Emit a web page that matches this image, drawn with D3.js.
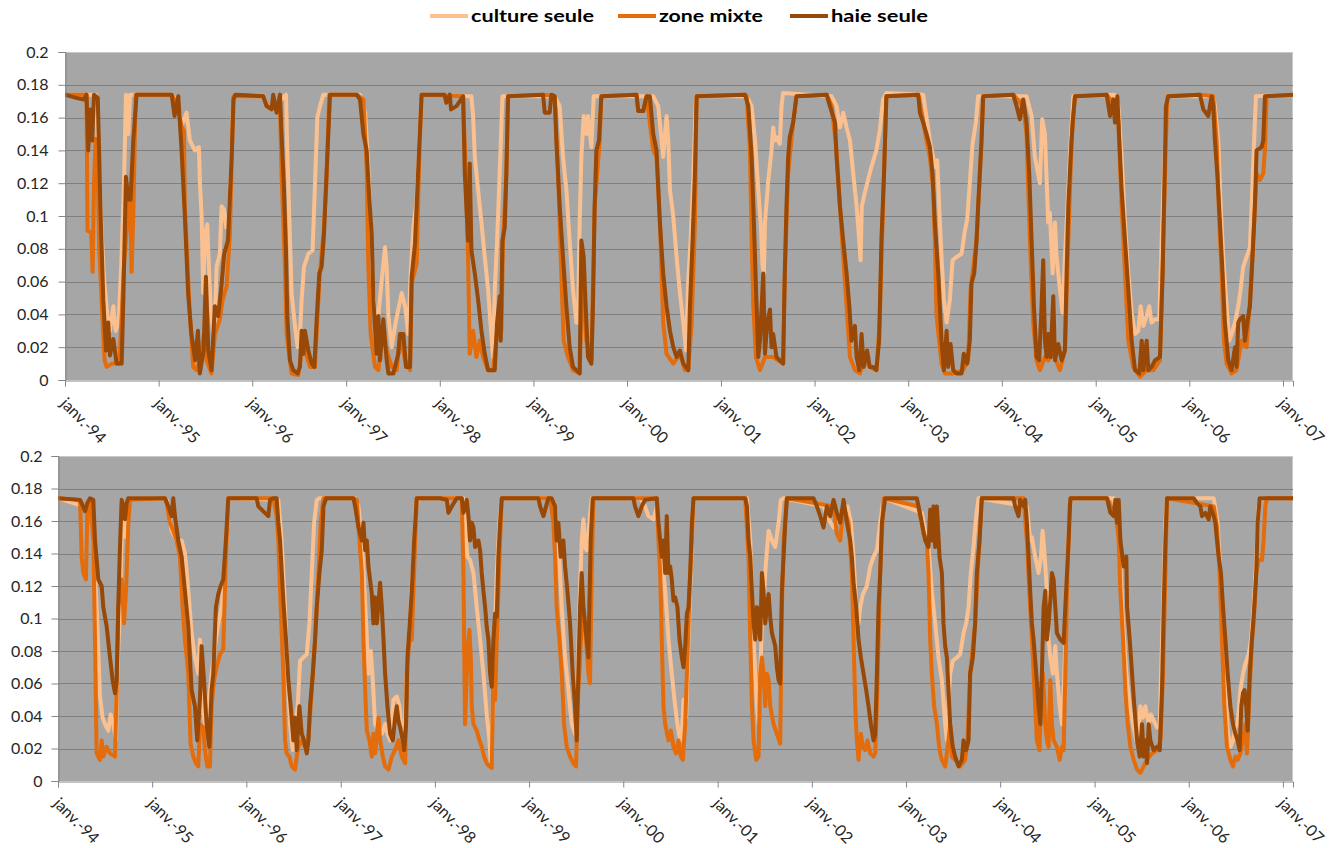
<!DOCTYPE html>
<html><head><meta charset="utf-8">
<script src="https://cdn.jsdelivr.net/npm/d3@7"></script>
<style>
body{margin:0;background:#fff;}
svg{display:block;font-family:Lato,"Open Sans",sans-serif;}
</style></head><body>
<svg id="chart" width="1343" height="848"></svg>
<script>
// ---------- DATA (decimal year, value) ----------
const seriesNames = ["culture seule", "zone mixte", "haie seule"];
const tickLabels = ["janv.-94","janv.-95","janv.-96","janv.-97","janv.-98","janv.-99","janv.-00","janv.-01","janv.-02","janv.-03","janv.-04","janv.-05","janv.-06","janv.-07"];
const yTicks = [0,0.02,0.04,0.06,0.08,0.1,0.12,0.14,0.16,0.18,0.2];

const topCulture = [[1994.0,.174],[1994.33,.174],[1994.363,.13],[1994.391,.09],[1994.42,.059],[1994.452,.040],[1994.48,.030],[1994.516,.045],[1994.541,.030],[1994.573,.035],[1994.6,.069],[1994.63,.12],[1994.651,.174],[1994.676,.150],[1994.694,.174],
[1995.14,.174],[1995.192,.171],[1995.245,.155],[1995.298,.163],[1995.334,.146],[1995.387,.140],[1995.43,.142],[1995.441,.120],[1995.459,.100],[1995.476,.053],[1995.494,.089],[1995.519,.095],[1995.54,.065],[1995.555,.045],[1995.583,.028],[1995.601,.037],[1995.619,.069],[1995.654,.077],[1995.672,.106],[1995.697,.104],[1995.722,.093],[1995.754,.102],[1995.779,.136],[1995.797,.173],
[1996.117,.173],[1996.152,.168],[1996.206,.165],[1996.295,.170],[1996.359,.174],[1996.373,.140],[1996.394,.100],[1996.419,.053],[1996.455,.033],[1996.483,.020],[1996.508,.028],[1996.526,.049],[1996.551,.069],[1996.597,.077],[1996.643,.079],[1996.668,.120],[1996.693,.160],[1996.721,.167],[1996.757,.174],
[1997.148,.174],[1997.202,.163],[1997.237,.130],[1997.273,.069],[1997.308,.039],[1997.344,.039],[1997.38,.061],[1997.415,.081],[1997.433,.069],[1997.451,.039],[1997.486,.020],[1997.522,.033],[1997.557,.043],[1997.593,.053],[1997.629,.045],[1997.664,.028],[1997.689,.065],[1997.718,.093],[1997.753,.110],[1997.782,.144],[1997.806,.174],
[1998.285,.173],[1998.338,.173],[1998.356,.161],[1998.374,.136],[1998.409,.116],[1998.445,.096],[1998.48,.075],[1998.516,.055],[1998.541,.035],[1998.569,.014],[1998.587,.055],[1998.612,.085],[1998.633,.116],[1998.651,.144],[1998.669,.173],
[1999.227,.173],[1999.281,.167],[1999.316,.136],[1999.352,.116],[1999.387,.085],[1999.423,.055],[1999.459,.035],[1999.476,.035],[1999.494,.096],[1999.512,.136],[1999.537,.161],[1999.565,.150],[1999.583,.161],[1999.619,.142],[1999.644,.173],
[2000.279,.173],[2000.332,.167],[2000.385,.136],[2000.421,.161],[2000.439,.146],[2000.457,.116],[2000.492,.100],[2000.528,.075],[2000.563,.053],[2000.599,.035],[2000.627,.018],[2000.652,.061],[2000.677,.085],[2000.705,.122],[2000.734,.173],
[2001.275,.173],[2001.328,.167],[2001.364,.146],[2001.399,.116],[2001.424,.096],[2001.445,.069],[2001.459,.065],[2001.47,.096],[2001.506,.122],[2001.54,.140],[2001.558,.154],[2001.576,.146],[2001.593,.148],[2001.629,.144],[2001.647,.167],[2001.664,.175],
[2002.182,.173],[2002.235,.167],[2002.271,.154],[2002.306,.163],[2002.342,.154],[2002.378,.146],[2002.413,.126],[2002.449,.106],[2002.477,.085],[2002.491,.073],[2002.505,.106],[2002.536,.114],[2002.571,.122],[2002.607,.130],[2002.66,.140],[2002.696,.152],[2002.731,.171],[2002.767,.175],
[2003.16,.174],[2003.232,.146],[2003.285,.130],[2003.31,.134],[2003.331,.106],[2003.356,.075],[2003.381,.049],[2003.41,.035],[2003.445,.049],[2003.474,.073],[2003.516,.075],[2003.57,.077],[2003.605,.091],[2003.63,.098],[2003.658,.120],[2003.687,.144],[2003.723,.157],[2003.747,.173],
[2004.263,.173],[2004.317,.161],[2004.352,.136],[2004.405,.120],[2004.43,.159],[2004.459,.150],[2004.477,.122],[2004.494,.096],[2004.512,.102],[2004.541,.065],[2004.566,.096],[2004.583,.075],[2004.619,.055],[2004.647,.041],[2004.672,.075],[2004.708,.116],[2004.733,.146],[2004.761,.173],
[2005.2,.174],[2005.242,.167],[2005.277,.136],[2005.313,.096],[2005.348,.065],[2005.384,.041],[2005.42,.028],[2005.455,.030],[2005.48,.045],[2005.509,.033],[2005.544,.039],[2005.572,.045],[2005.597,.035],[2005.633,.037],[2005.679,.037],[2005.693,.065],[2005.722,.116],[2005.75,.157],[2005.765,.173],
[2006.255,.173],[2006.273,.167],[2006.309,.146],[2006.334,.106],[2006.362,.075],[2006.398,.045],[2006.426,.024],[2006.451,.028],[2006.487,.035],[2006.522,.045],[2006.547,.055],[2006.575,.069],[2006.611,.075],[2006.647,.081],[2006.665,.106],[2006.682,.132],[2006.711,.173],[2007.11,.174]];

const topMixte = [[1994.0,.174],[1994.23,.174],[1994.24,.091],[1994.28,.09],[1994.295,.066],[1994.31,.12],[1994.327,.147],[1994.348,.13],[1994.366,.08],[1994.398,.04],[1994.423,.012],[1994.445,.008],[1994.502,.01],[1994.58,.01],[1994.605,.039],[1994.63,.07],[1994.669,.1],[1994.694,.114],[1994.711,.066],[1994.729,.1],[1994.755,.174],
[1995.14,.174],[1995.18,.170],[1995.245,.155],[1995.27,.152],[1995.28,.106],[1995.334,.039],[1995.37,.008],[1995.405,.006],[1995.441,.012],[1995.484,.028],[1995.512,.012],[1995.565,.004],[1995.601,.028],[1995.654,.037],[1995.683,.049],[1995.726,.057],[1995.761,.089],[1995.797,.173],
[1996.117,.173],[1996.152,.168],[1996.206,.165],[1996.295,.170],[1996.312,.126],[1996.348,.069],[1996.366,.028],[1996.419,.004],[1996.49,.003],[1996.526,.018],[1996.561,.018],[1996.615,.008],[1996.668,.008],[1996.693,.037],[1996.72,.065],[1996.76,.09],[1996.79,.12],[1996.82,.174],
[1997.113,.174],[1997.184,.171],[1997.219,.130],[1997.237,.069],[1997.262,.028],[1997.308,.008],[1997.344,.006],[1997.38,.028],[1997.433,.018],[1997.486,.008],[1997.54,.006],[1997.575,.028],[1997.629,.012],[1997.682,.006],[1997.7,.059],[1997.753,.071],[1997.782,.140],[1997.806,.174],
[1998.249,.173],[1998.277,.126],[1998.302,.075],[1998.32,.016],[1998.356,.030],[1998.391,.014],[1998.427,.024],[1998.462,.014],[1998.516,.006],[1998.569,.006],[1998.623,.035],[1998.658,.030],[1998.676,.085],[1998.711,.126],[1998.729,.173],
[1999.103,.174],[1999.227,.173],[1999.263,.126],[1999.298,.065],[1999.323,.024],[1999.37,.014],[1999.423,.006],[1999.494,.004],[1999.523,.065],[1999.565,.024],[1999.619,.012],[1999.654,.106],[1999.708,.146],[1999.725,.173],
[2000.101,.174],[2000.119,.164],[2000.172,.164],[2000.208,.173],[2000.279,.140],[2000.314,.136],[2000.35,.096],[2000.385,.035],[2000.421,.016],[2000.492,.010],[2000.563,.016],[2000.617,.006],[2000.652,.006],[2000.688,.035],[2000.723,.096],[2000.741,.173],
[2001.257,.174],[2001.275,.173],[2001.31,.140],[2001.328,.085],[2001.346,.045],[2001.374,.014],[2001.417,.006],[2001.47,.014],[2001.524,.014],[2001.558,.014],[2001.611,.012],[2001.664,.010],[2001.682,.065],[2001.718,.126],[2001.771,.157],[2001.807,.173],
[2002.129,.174],[2002.182,.167],[2002.235,.140],[2002.271,.106],[2002.306,.075],[2002.342,.045],[2002.378,.014],[2002.431,.006],[2002.484,.004],[2002.536,.014],[2002.589,.008],[2002.66,.006],[2002.696,.035],[2002.731,.106],[2002.767,.173],
[2003.107,.174],[2003.143,.163],[2003.196,.146],[2003.232,.136],[2003.267,.116],[2003.285,.085],[2003.303,.039],[2003.331,.024],[2003.356,.010],[2003.392,.004],[2003.481,.004],[2003.587,.006],[2003.641,.012],[2003.666,.055],[2003.73,.085],[2003.783,.146],[2003.801,.173],
[2004.121,.174],[2004.228,.167],[2004.263,.150],[2004.299,.085],[2004.334,.035],[2004.37,.012],[2004.405,.006],[2004.459,.014],[2004.494,.012],[2004.548,.016],[2004.619,.006],[2004.672,.018],[2004.708,.085],[2004.743,.146],[2004.779,.173],
[2005.117,.174],[2005.206,.167],[2005.242,.157],[2005.277,.106],[2005.313,.065],[2005.348,.024],[2005.402,.008],[2005.473,.002],[2005.544,.006],[2005.615,.006],[2005.686,.012],[2005.722,.085],[2005.75,.146],[2005.765,.173],
[2006.113,.174],[2006.255,.173],[2006.291,.146],[2006.32,.096],[2006.345,.065],[2006.369,.024],[2006.398,.010],[2006.451,.004],[2006.504,.006],[2006.558,.024],[2006.611,.020],[2006.647,.049],[2006.682,.085],[2006.718,.126],[2006.754,.122],[2006.789,.126],[2006.807,.140],[2006.825,.173],[2007.11,.174]];

const topHaie = [[1994.0,.174],[1994.12,.172],[1994.2,.171],[1994.23,.174],[1994.248,.14],[1994.27,.165],[1994.29,.146],[1994.31,.174],[1994.35,.172],[1994.38,.102],[1994.409,.049],[1994.438,.018],[1994.462,.035],[1994.48,.015],[1994.516,.025],[1994.551,.01],[1994.605,.01],[1994.623,.049],[1994.651,.124],[1994.676,.11],[1994.7,.11],[1994.729,.146],[1994.765,.174],
[1995.14,.174],[1995.17,.161],[1995.21,.173],[1995.245,.14],[1995.28,.1],[1995.315,.053],[1995.35,.028],[1995.39,.012],[1995.42,.03],[1995.44,.004],[1995.48,.018],[1995.505,.063],[1995.53,.018],[1995.565,.006],[1995.6,.045],[1995.636,.039],[1995.67,.057],[1995.7,.077],[1995.74,.085],[1995.78,.136],[1995.8,.171],[1995.82,.174],
[1996.117,.173],[1996.152,.167],[1996.206,.165],[1996.223,.174],[1996.259,.163],[1996.295,.174],[1996.312,.15],[1996.337,.118],[1996.359,.079],[1996.373,.039],[1996.401,.012],[1996.437,.006],[1996.483,.004],[1996.508,.008],[1996.526,.03],[1996.544,.016],[1996.561,.03],[1996.597,.018],[1996.633,.01],[1996.661,.008],[1996.686,.037],[1996.714,.065],[1996.739,.069],[1996.764,.089],[1996.785,.118],[1996.81,.15],[1996.828,.174],
[1997.113,.174],[1997.148,.171],[1997.184,.15],[1997.219,.14],[1997.248,.11],[1997.273,.089],[1997.291,.049],[1997.326,.016],[1997.344,.039],[1997.362,.012],[1997.397,.037],[1997.433,.012],[1997.451,.004],[1997.504,.004],[1997.557,.016],[1997.575,.028],[1997.611,.028],[1997.639,.008],[1997.682,.008],[1997.7,.063],[1997.735,.083],[1997.771,.130],[1997.806,.174],
[1998.05,.174],[1998.07,.169],[1998.107,.174],[1998.12,.165],[1998.178,.167],[1998.249,.173],[1998.267,.126],[1998.302,.085],[1998.32,.132],[1998.338,.079],[1998.374,.065],[1998.409,.049],[1998.445,.03],[1998.48,.016],[1998.516,.006],[1998.587,.006],[1998.612,.035],[1998.64,.051],[1998.651,.024],[1998.669,.085],[1998.694,.093],[1998.711,.126],[1998.729,.173],
[1999.103,.174],[1999.121,.163],[1999.174,.163],[1999.192,.174],[1999.227,.173],[1999.245,.146],[1999.281,.106],[1999.316,.075],[1999.352,.045],[1999.387,.02],[1999.423,.008],[1999.494,.004],[1999.512,.085],[1999.537,.075],[1999.558,.045],[1999.583,.014],[1999.619,.01],[1999.636,.045],[1999.654,.106],[1999.672,.14],[1999.7,.146],[1999.725,.173],
[2000.101,.174],[2000.119,.164],[2000.172,.164],[2000.208,.173],[2000.243,.173],[2000.279,.150],[2000.314,.140],[2000.35,.096],[2000.385,.065],[2000.421,.045],[2000.457,.030],[2000.492,.020],[2000.528,.014],[2000.563,.018],[2000.599,.010],[2000.652,.006],[2000.67,.045],[2000.698,.085],[2000.723,.126],[2000.741,.173],
[2001.257,.174],[2001.293,.167],[2001.328,.136],[2001.346,.106],[2001.364,.075],[2001.381,.045],[2001.399,.014],[2001.417,.024],[2001.435,.045],[2001.452,.065],[2001.47,.016],[2001.495,.035],[2001.524,.043],[2001.54,.020],[2001.558,.028],[2001.593,.014],[2001.629,.012],[2001.664,.010],[2001.682,.065],[2001.7,.106],[2001.718,.136],[2001.735,.148],[2001.771,.157],[2001.807,.173],
[2002.129,.174],[2002.164,.167],[2002.218,.157],[2002.235,.136],[2002.271,.106],[2002.306,.085],[2002.342,.065],[2002.371,.045],[2002.395,.024],[2002.431,.033],[2002.449,.014],[2002.477,.006],[2002.502,.028],[2002.525,.008],[2002.561,.018],[2002.589,.008],[2002.625,.008],[2002.66,.006],[2002.689,.024],[2002.714,.085],[2002.742,.126],[2002.767,.173],
[2003.107,.174],[2003.125,.163],[2003.16,.157],[2003.196,.150],[2003.232,.142],[2003.26,.126],[2003.285,.096],[2003.321,.065],[2003.338,.045],[2003.356,.024],[2003.381,.006],[2003.41,.030],[2003.427,.008],[2003.452,.022],[2003.481,.006],[2003.516,.004],[2003.57,.004],[2003.594,.016],[2003.63,.010],[2003.658,.024],[2003.676,.059],[2003.705,.065],[2003.73,.085],[2003.747,.106],[2003.765,.126],[2003.783,.146],[2003.801,.173],
[2004.121,.174],[2004.157,.167],[2004.192,.159],[2004.228,.171],[2004.263,.157],[2004.292,.126],[2004.317,.085],[2004.342,.045],[2004.37,.014],[2004.398,.012],[2004.423,.045],[2004.441,.073],[2004.459,.024],[2004.477,.014],[2004.494,.028],[2004.519,.014],[2004.548,.051],[2004.566,.012],[2004.601,.022],[2004.637,.012],[2004.672,.018],[2004.69,.065],[2004.708,.106],[2004.733,.136],[2004.754,.157],[2004.779,.173],
[2005.117,.174],[2005.153,.161],[2005.188,.171],[2005.206,.157],[2005.231,.173],[2005.252,.146],[2005.277,.116],[2005.313,.085],[2005.348,.055],[2005.384,.024],[2005.42,.006],[2005.466,.004],[2005.491,.024],[2005.509,.006],[2005.544,.024],[2005.562,.006],[2005.597,.008],[2005.633,.012],[2005.686,.014],[2005.715,.065],[2005.729,.106],[2005.75,.167],[2005.775,.173],
[2006.113,.174],[2006.149,.165],[2006.202,.161],[2006.238,.173],[2006.255,.167],[2006.273,.146],[2006.298,.126],[2006.327,.096],[2006.355,.065],[2006.38,.035],[2006.416,.012],[2006.451,.006],[2006.487,.020],[2006.504,.008],[2006.522,.035],[2006.54,.037],[2006.575,.039],[2006.593,.024],[2006.618,.035],[2006.647,.045],[2006.675,.075],[2006.7,.106],[2006.718,.140],[2006.771,.142],[2006.789,.146],[2006.807,.173],[2007.11,.174]];

const botCulture = [[1994.0,.174],[1994.269,.169],[1994.311,.169],[1994.357,.169],[1994.393,.128],[1994.418,.097],[1994.446,.052],[1994.474,.039],[1994.499,.035],[1994.534,.031],[1994.559,.041],[1994.587,.035],[1994.616,.025],[1994.63,.066],[1994.651,.097],[1994.676,.148],[1994.701,.161],[1994.722,.150],[1994.747,.169],[1994.764,.174],
[1995.136,.174],[1995.154,.173],[1995.207,.154],[1995.224,.152],[1995.26,.148],[1995.313,.148],[1995.348,.140],[1995.384,.117],[1995.419,.091],[1995.454,.076],[1995.49,.066],[1995.507,.087],[1995.536,.046],[1995.561,.035],[1995.596,.046],[1995.631,.066],[1995.667,.083],[1995.702,.097],[1995.737,.107],[1995.762,.124],[1995.79,.148],[1995.808,.174],
[1996.339,.173],[1996.374,.148],[1996.41,.107],[1996.435,.066],[1996.463,.035],[1996.491,.019],[1996.516,.035],[1996.544,.046],[1996.569,.074],[1996.604,.076],[1996.64,.078],[1996.668,.097],[1996.693,.128],[1996.718,.159],[1996.746,.173],[1996.774,.174],
[1997.153,.174],[1997.188,.169],[1997.224,.148],[1997.248,.122],[1997.27,.097],[1997.294,.066],[1997.319,.080],[1997.34,.062],[1997.365,.035],[1997.401,.031],[1997.436,.029],[1997.471,.035],[1997.496,.029],[1997.524,.025],[1997.56,.050],[1997.595,.052],[1997.624,.046],[1997.648,.031],[1997.673,.021],[1997.701,.066],[1997.73,.095],[1997.772,.138],[1997.8,.169],[1997.825,.174],
[1998.303,.174],[1998.331,.148],[1998.345,.138],[1998.373,.136],[1998.409,.128],[1998.444,.107],[1998.48,.087],[1998.515,.066],[1998.55,.041],[1998.579,.025],[1998.593,.011],[1998.614,.046],[1998.639,.097],[1998.657,.128],[1998.685,.159],[1998.71,.174],
[1999.24,.174],[1999.276,.169],[1999.311,.148],[1999.347,.107],[1999.382,.076],[1999.417,.056],[1999.453,.035],[1999.488,.029],[1999.506,.039],[1999.534,.107],[1999.559,.148],[1999.577,.161],[1999.594,.144],[1999.612,.142],[1999.64,.159],[1999.665,.174],
[2000.178,.174],[2000.231,.169],[2000.267,.163],[2000.32,.161],[2000.355,.169],[2000.373,.154],[2000.408,.138],[2000.444,.117],[2000.479,.087],[2000.514,.066],[2000.55,.046],[2000.574,.035],[2000.603,.025],[2000.62,.029],[2000.638,.050],[2000.666,.039],[2000.681,.066],[2000.702,.107],[2000.727,.148],[2000.744,.174],
[2001.311,.174],[2001.346,.148],[2001.374,.097],[2001.399,.066],[2001.417,.046],[2001.434,.035],[2001.452,.066],[2001.47,.097],[2001.487,.107],[2001.505,.128],[2001.523,.142],[2001.541,.154],[2001.576,.148],[2001.611,.144],[2001.647,.159],[2001.671,.173],[2001.7,.174],
[2002.124,.169],[2002.178,.161],[2002.231,.156],[2002.284,.161],[2002.337,.163],[2002.379,.169],[2002.415,.159],[2002.443,.138],[2002.471,.107],[2002.496,.097],[2002.514,.107],[2002.542,.115],[2002.584,.120],[2002.62,.132],[2002.655,.138],[2002.691,.142],[2002.726,.159],[2002.761,.174],
[2003.168,.165],[2003.204,.154],[2003.239,.144],[2003.274,.117],[2003.31,.097],[2003.345,.076],[2003.381,.062],[2003.416,.035],[2003.434,.025],[2003.451,.050],[2003.469,.066],[2003.497,.074],[2003.54,.076],[2003.575,.078],[2003.611,.091],[2003.639,.097],[2003.664,.107],[2003.688,.128],[2003.717,.144],[2003.745,.163],[2003.77,.174],
[2004.283,.169],[2004.318,.148],[2004.336,.150],[2004.371,.138],[2004.407,.128],[2004.432,.138],[2004.449,.154],[2004.467,.142],[2004.495,.117],[2004.513,.087],[2004.531,.076],[2004.559,.066],[2004.584,.083],[2004.601,.066],[2004.63,.046],[2004.654,.035],[2004.679,.066],[2004.7,.107],[2004.725,.148],[2004.743,.174],
[2005.203,.174],[2005.245,.159],[2005.274,.132],[2005.302,.097],[2005.337,.066],[2005.373,.046],[2005.408,.035],[2005.444,.025],[2005.468,.031],[2005.486,.046],[2005.514,.039],[2005.539,.046],[2005.575,.035],[2005.599,.041],[2005.628,.037],[2005.663,.033],[2005.692,.035],[2005.706,.066],[2005.727,.107],[2005.752,.159],[2005.769,.174],
[2006.265,.174],[2006.307,.159],[2006.335,.128],[2006.364,.097],[2006.389,.056],[2006.413,.031],[2006.442,.021],[2006.47,.025],[2006.495,.033],[2006.519,.035],[2006.548,.056],[2006.576,.066],[2006.6,.072],[2006.636,.078],[2006.661,.087],[2006.689,.107],[2006.717,.138],[2006.742,.169],[2006.76,.174],[2007.107,.174]];

const botMixte = [[1994.0,.174],[1994.234,.173],[1994.251,.138],[1994.269,.128],[1994.297,.124],[1994.311,.165],[1994.34,.173],[1994.375,.148],[1994.393,.087],[1994.41,.017],[1994.446,.013],[1994.464,.025],[1994.481,.015],[1994.517,.021],[1994.552,.017],[1994.605,.015],[1994.623,.056],[1994.64,.107],[1994.676,.124],[1994.701,.097],[1994.722,.117],[1994.747,.159],[1994.764,.173],
[1995.136,.174],[1995.154,.171],[1995.189,.159],[1995.224,.154],[1995.26,.148],[1995.295,.138],[1995.323,.107],[1995.348,.087],[1995.384,.066],[1995.408,.023],[1995.437,.015],[1995.465,.011],[1995.49,.009],[1995.507,.035],[1995.543,.033],[1995.561,.019],[1995.585,.009],[1995.614,.009],[1995.631,.046],[1995.656,.062],[1995.684,.070],[1995.72,.078],[1995.755,.081],[1995.783,.138],[1995.808,.174],
[1996.286,.174],[1996.321,.163],[1996.339,.148],[1996.364,.107],[1996.392,.066],[1996.41,.025],[1996.427,.017],[1996.456,.015],[1996.481,.009],[1996.516,.007],[1996.534,.015],[1996.551,.021],[1996.587,.025],[1996.622,.021],[1996.657,.025],[1996.693,.056],[1996.728,.087],[1996.764,.128],[1996.788,.159],[1996.817,.174],
[1997.135,.174],[1997.171,.173],[1997.199,.148],[1997.224,.128],[1997.241,.087],[1997.259,.056],[1997.277,.031],[1997.305,.025],[1997.33,.015],[1997.347,.029],[1997.365,.017],[1997.401,.039],[1997.418,.025],[1997.447,.015],[1997.471,.009],[1997.507,.007],[1997.542,.015],[1997.577,.019],[1997.613,.025],[1997.648,.015],[1997.684,.011],[1997.701,.066],[1997.73,.087],[1997.754,.087],[1997.79,.148],[1997.807,.174],
[1998.285,.174],[1998.303,.128],[1998.31,.087],[1998.32,.035],[1998.338,.066],[1998.356,.087],[1998.366,.093],[1998.381,.076],[1998.391,.046],[1998.409,.035],[1998.444,.031],[1998.473,.025],[1998.497,.021],[1998.522,.015],[1998.55,.011],[1998.579,.009],[1998.603,.008],[1998.621,.066],[1998.639,.050],[1998.657,.087],[1998.674,.117],[1998.692,.148],[1998.71,.174],
[1999.223,.174],[1999.258,.159],[1999.276,.138],[1999.293,.107],[1999.322,.087],[1999.347,.066],[1999.371,.035],[1999.4,.021],[1999.435,.015],[1999.47,.011],[1999.499,.009],[1999.513,.046],[1999.534,.066],[1999.559,.097],[1999.577,.107],[1999.605,.087],[1999.63,.066],[1999.647,.060],[1999.665,.128],[1999.683,.174],
[2000.355,.174],[2000.373,.148],[2000.391,.128],[2000.408,.087],[2000.426,.046],[2000.444,.035],[2000.479,.025],[2000.504,.031],[2000.532,.021],[2000.56,.017],[2000.585,.025],[2000.61,.015],[2000.631,.013],[2000.656,.035],[2000.674,.066],[2000.691,.097],[2000.709,.128],[2000.727,.148],[2000.744,.174],
[2001.293,.174],[2001.328,.138],[2001.346,.087],[2001.364,.046],[2001.381,.025],[2001.41,.013],[2001.434,.015],[2001.452,.066],[2001.47,.076],[2001.487,.066],[2001.505,.046],[2001.523,.066],[2001.541,.062],[2001.558,.046],[2001.594,.035],[2001.629,.029],[2001.664,.023],[2001.682,.107],[2001.7,.148],[2001.735,.174],
[2002.231,.169],[2002.266,.152],[2002.301,.148],[2002.337,.169],[2002.39,.159],[2002.425,.128],[2002.443,.087],[2002.461,.046],[2002.478,.025],[2002.496,.013],[2002.521,.029],[2002.542,.021],[2002.567,.019],[2002.591,.025],[2002.62,.017],[2002.655,.015],[2002.673,.017],[2002.691,.046],[2002.708,.087],[2002.726,.128],[2002.761,.174],
[2003.133,.169],[2003.186,.152],[2003.221,.148],[2003.239,.128],[2003.257,.087],[2003.274,.066],[2003.299,.046],[2003.328,.035],[2003.356,.019],[2003.381,.013],[2003.416,.009],[2003.451,.025],[2003.469,.035],[2003.487,.015],[2003.522,.013],[2003.575,.009],[2003.628,.013],[2003.653,.025],[2003.681,.066],[2003.734,.097],[2003.77,.138],[2003.805,.174],
[2004.248,.174],[2004.283,.148],[2004.318,.107],[2004.347,.076],[2004.371,.046],[2004.389,.025],[2004.417,.019],[2004.432,.046],[2004.453,.066],[2004.478,.035],[2004.495,.025],[2004.513,.021],[2004.531,.062],[2004.548,.035],[2004.566,.025],[2004.601,.021],[2004.63,.013],[2004.654,.021],[2004.672,.019],[2004.69,.066],[2004.708,.117],[2004.736,.169],[2004.75,.174],
[2005.132,.174],[2005.168,.169],[2005.221,.167],[2005.256,.148],[2005.274,.117],[2005.302,.087],[2005.327,.056],[2005.352,.035],[2005.38,.021],[2005.415,.013],[2005.451,.007],[2005.486,.005],[2005.521,.009],[2005.557,.013],[2005.61,.017],[2005.663,.019],[2005.699,.025],[2005.727,.066],[2005.752,.128],[2005.769,.174],
[2006.265,.169],[2006.3,.156],[2006.328,.128],[2006.353,.087],[2006.378,.046],[2006.406,.021],[2006.442,.013],[2006.47,.009],[2006.495,.015],[2006.519,.013],[2006.548,.017],[2006.576,.025],[2006.6,.035],[2006.618,.017],[2006.647,.056],[2006.671,.087],[2006.689,.097],[2006.717,.128],[2006.742,.136],[2006.778,.136],[2006.795,.148],[2006.813,.169],[2006.831,.174],[2007.107,.174]];

const botHaie = [[1994.0,.174],[1994.234,.173],[1994.251,.171],[1994.287,.166],[1994.311,.171],[1994.34,.174],[1994.375,.173],[1994.393,.148],[1994.428,.124],[1994.464,.120],[1994.481,.107],[1994.517,.095],[1994.552,.076],[1994.58,.062],[1994.605,.054],[1994.623,.062],[1994.64,.107],[1994.658,.144],[1994.676,.173],[1994.694,.169],[1994.711,.161],[1994.729,.171],[1994.747,.174],
[1995.136,.174],[1995.171,.169],[1995.207,.163],[1995.224,.174],[1995.242,.163],[1995.277,.148],[1995.313,.138],[1995.348,.117],[1995.384,.095],[1995.419,.056],[1995.454,.046],[1995.479,.025],[1995.507,.050],[1995.525,.083],[1995.55,.062],[1995.578,.035],[1995.607,.021],[1995.631,.056],[1995.649,.066],[1995.677,.107],[1995.702,.115],[1995.727,.120],[1995.755,.124],[1995.783,.148],[1995.808,.174],
[1996.109,.174],[1996.127,.169],[1996.162,.167],[1996.197,.165],[1996.233,.163],[1996.251,.173],[1996.286,.174],[1996.321,.174],[1996.339,.159],[1996.357,.148],[1996.392,.111],[1996.42,.087],[1996.445,.062],[1996.47,.046],[1996.498,.025],[1996.516,.039],[1996.534,.019],[1996.562,.046],[1996.587,.029],[1996.611,.025],[1996.64,.017],[1996.657,.025],[1996.675,.046],[1996.704,.066],[1996.728,.087],[1996.746,.107],[1996.774,.128],[1996.799,.142],[1996.817,.169],[1996.845,.174],
[1997.135,.174],[1997.153,.169],[1997.188,.156],[1997.224,.148],[1997.241,.159],[1997.259,.142],[1997.277,.148],[1997.294,.132],[1997.33,.115],[1997.347,.097],[1997.365,.113],[1997.383,.097],[1997.418,.122],[1997.436,.107],[1997.454,.087],[1997.471,.066],[1997.496,.046],[1997.524,.029],[1997.553,.025],[1997.577,.039],[1997.595,.046],[1997.613,.037],[1997.631,.033],[1997.659,.025],[1997.673,.019],[1997.694,.035],[1997.708,.076],[1997.73,.095],[1997.754,.117],[1997.779,.148],[1997.807,.174],
[1998.055,.174],[1998.126,.173],[1998.143,.165],[1998.179,.169],[1998.232,.174],[1998.285,.174],[1998.303,.165],[1998.338,.173],[1998.356,.163],[1998.373,.148],[1998.391,.159],[1998.409,.156],[1998.427,.144],[1998.462,.148],[1998.48,.142],[1998.497,.128],[1998.515,.117],[1998.533,.107],[1998.55,.095],[1998.568,.087],[1998.586,.066],[1998.603,.058],[1998.621,.087],[1998.639,.103],[1998.657,.101],[1998.674,.138],[1998.692,.159],[1998.71,.174],
[1999.099,.174],[1999.117,.169],[1999.152,.163],[1999.18,.169],[1999.205,.174],[1999.24,.174],[1999.276,.169],[1999.293,.148],[1999.311,.159],[1999.336,.138],[1999.364,.148],[1999.382,.132],[1999.407,.117],[1999.435,.097],[1999.463,.066],[1999.488,.046],[1999.506,.025],[1999.523,.066],[1999.541,.107],[1999.559,.128],[1999.577,.107],[1999.594,.097],[1999.612,.087],[1999.63,.076],[1999.64,.107],[1999.654,.148],[1999.676,.174],
[2000.107,.174],[2000.125,.169],[2000.16,.163],[2000.196,.169],[2000.231,.173],[2000.355,.174],[2000.373,.159],[2000.391,.148],[2000.408,.138],[2000.426,.148],[2000.444,.128],[2000.461,.163],[2000.479,.128],[2000.497,.132],[2000.514,.124],[2000.532,.111],[2000.55,.113],[2000.574,.107],[2000.596,.087],[2000.62,.076],[2000.638,.070],[2000.656,.083],[2000.674,.103],[2000.691,.107],[2000.709,.128],[2000.727,.159],[2000.744,.174],
[2001.293,.174],[2001.311,.169],[2001.328,.148],[2001.346,.138],[2001.364,.117],[2001.381,.097],[2001.399,.087],[2001.417,.107],[2001.434,.097],[2001.452,.087],[2001.47,.128],[2001.487,.117],[2001.505,.097],[2001.523,.107],[2001.541,.115],[2001.558,.101],[2001.576,.091],[2001.594,.087],[2001.611,.083],[2001.629,.070],[2001.647,.062],[2001.664,.060],[2001.682,.117],[2001.7,.138],[2001.718,.159],[2001.735,.174],
[2002.018,.174],[2002.054,.169],[2002.089,.163],[2002.124,.156],[2002.16,.169],[2002.195,.163],[2002.231,.173],[2002.266,.165],[2002.301,.159],[2002.337,.173],[2002.372,.159],[2002.408,.148],[2002.425,.138],[2002.443,.122],[2002.471,.107],[2002.496,.087],[2002.521,.076],[2002.549,.066],[2002.577,.056],[2002.602,.046],[2002.627,.035],[2002.655,.025],[2002.673,.029],[2002.691,.066],[2002.708,.107],[2002.726,.128],[2002.744,.159],[2002.779,.174],
[2003.115,.174],[2003.133,.169],[2003.168,.159],[2003.204,.148],[2003.239,.144],[2003.257,.167],[2003.274,.148],[2003.292,.169],[2003.31,.144],[2003.328,.169],[2003.356,.138],[2003.381,.128],[2003.398,.097],[2003.416,.083],[2003.434,.076],[2003.451,.056],[2003.469,.035],[2003.497,.021],[2003.522,.015],[2003.558,.009],[2003.593,.013],[2003.611,.025],[2003.639,.019],[2003.664,.025],[2003.681,.066],[2003.71,.076],[2003.734,.097],[2003.752,.128],[2003.781,.148],[2003.805,.174],
[2004.141,.174],[2004.159,.169],[2004.194,.163],[2004.212,.173],[2004.248,.169],[2004.265,.173],[2004.283,.159],[2004.301,.138],[2004.318,.117],[2004.336,.097],[2004.354,.087],[2004.382,.066],[2004.407,.046],[2004.425,.035],[2004.442,.066],[2004.46,.107],[2004.478,.117],[2004.495,.087],[2004.513,.097],[2004.531,.111],[2004.548,.128],[2004.566,.124],[2004.584,.107],[2004.601,.091],[2004.637,.087],[2004.672,.085],[2004.69,.107],[2004.708,.128],[2004.725,.148],[2004.743,.174],
[2005.132,.174],[2005.168,.165],[2005.203,.163],[2005.221,.173],[2005.238,.159],[2005.256,.173],[2005.274,.148],[2005.309,.132],[2005.337,.138],[2005.345,.107],[2005.373,.087],[2005.398,.066],[2005.422,.046],[2005.451,.025],[2005.479,.015],[2005.504,.035],[2005.521,.015],[2005.539,.025],[2005.557,.011],[2005.575,.035],[2005.592,.025],[2005.628,.019],[2005.663,.021],[2005.692,.019],[2005.716,.056],[2005.734,.107],[2005.752,.148],[2005.769,.174],
[2006.052,.174],[2006.088,.171],[2006.123,.169],[2006.141,.163],[2006.176,.165],[2006.211,.161],[2006.229,.169],[2006.265,.163],[2006.282,.159],[2006.3,.148],[2006.318,.138],[2006.342,.128],[2006.364,.107],[2006.389,.087],[2006.413,.066],[2006.442,.046],[2006.47,.035],[2006.495,.029],[2006.519,.025],[2006.54,.019],[2006.558,.046],[2006.576,.054],[2006.593,.056],[2006.611,.046],[2006.625,.031],[2006.647,.066],[2006.671,.087],[2006.696,.107],[2006.717,.128],[2006.732,.159],[2006.753,.174],[2007.107,.174]];

const colors = ["#FAC090", "#E46C0A", "#984807"];

// ---------- RENDER ----------
const svg = d3.select("#chart");
function toDate(t){
  const y = Math.floor(t);
  const s = new Date(y,0,1).getTime(), e = new Date(y+1,0,1).getTime();
  return new Date(s + (t - y) * (e - s));
}
const startDate = new Date(1994,0,1), endDate = toDate(2007.107);

function panel(cfg, series){
  const x = d3.scaleTime().domain([startDate, endDate]).range([cfg.left, cfg.right]);
  const y = d3.scaleLinear().domain([0, 0.2]).range([cfg.bottom, cfg.top]);
  const g = svg.append("g");
  g.append("rect").attr("x", cfg.left).attr("y", cfg.top)
    .attr("width", cfg.right - cfg.left).attr("height", cfg.bottom - cfg.top)
    .attr("fill", "#a6a6a6");
  g.append("line").attr("x1", cfg.left).attr("x2", cfg.right)
    .attr("y1", cfg.top + 0.5).attr("y2", cfg.top + 0.5).attr("stroke", "#c8c8c8").attr("stroke-width", 1);
  g.append("line").attr("x1", cfg.right - 0.5).attr("x2", cfg.right - 0.5)
    .attr("y1", cfg.top).attr("y2", cfg.bottom).attr("stroke", "#c8c8c8").attr("stroke-width", 1);
  // gridlines
  g.append("g").selectAll("line").data(yTicks.slice(1, -1)).join("line")
    .attr("x1", cfg.left).attr("x2", cfg.right)
    .attr("y1", d => Math.round(y(d)) + 0.5).attr("y2", d => Math.round(y(d)) + 0.5)
    .attr("stroke", "#7f7f7f").attr("stroke-width", 1);
  const cid = "clip" + cfg.id;
  svg.append("clipPath").attr("id", cid).append("rect")
    .attr("x", cfg.left).attr("y", cfg.top - 2).attr("width", cfg.right - cfg.left).attr("height", cfg.bottom - cfg.top + 2);
  const line = d3.line().x(d => x(toDate(d[0]))).y(d => y(d[1]));
  const lg = g.append("g").attr("clip-path", `url(#${cid})`);
  series.forEach((s, i) => {
    lg.append("path").datum(s).attr("d", line).attr("fill", "none")
      .attr("stroke", colors[i]).attr("stroke-width", 4)
      .attr("stroke-linejoin", "round").attr("stroke-linecap", "round");
  });
  // y axis
  const ya = d3.axisLeft(y).tickValues(yTicks).tickSize(7).tickPadding(10)
    .tickFormat(d => d === 0 ? "0" : String(+d.toFixed(2)));
  const yg = g.append("g").attr("transform", `translate(${cfg.left + 0.5},0)`).call(ya);
  yg.select(".domain").attr("stroke", "#868686");
  yg.selectAll(".tick line").attr("stroke", "#868686");
  yg.selectAll(".tick text").attr("font-size", 16).attr("fill", "#262626")
    .attr("font-family", "Lato, sans-serif").attr("x", -cfg.labelGap);
  // x axis
  const years = d3.range(1994, 2008).map(yr => new Date(yr, 0, 1));
  const xa = d3.axisBottom(x).tickValues(years).tickSize(6)
    .tickFormat((d, i) => tickLabels[i]);
  const xg = g.append("g").attr("transform", `translate(0,${cfg.bottom + 0.5})`).call(xa);
  xg.select(".domain").attr("stroke", "#868686");
  xg.selectAll(".tick line").attr("stroke", "#868686");
  xg.selectAll(".tick text").attr("font-size", 16).attr("fill", "#262626")
    .attr("font-family", "Lato, sans-serif")
    .attr("text-anchor", "start").attr("dy", null).attr("y", 0)
    .attr("transform", `translate(-6,${cfg.labelDrop}) rotate(45)`);
}

panel({id: "a", left: 65, right: 1293, top: 52, bottom: 380, labelGap: 17, labelDrop: 24}, [topCulture, topMixte, topHaie]);
panel({id: "b", left: 58, right: 1293, top: 456, bottom: 781, labelGap: 16, labelDrop: 23}, [botCulture, botMixte, botHaie]);

// legend
const legendX = [430, 618, 790];
const legendW = [123, 104, 97];
const lgd = svg.append("g");
seriesNames.forEach((n, i) => {
  lgd.append("line").attr("x1", legendX[i]).attr("x2", legendX[i] + 38)
    .attr("y1", 16).attr("y2", 16).attr("stroke", colors[i]).attr("stroke-width", 4);
  lgd.append("text").attr("x", legendX[i] + 41).attr("y", 22)
    .attr("font-size", 17).attr("font-weight", "bold").attr("fill", "#000")
    .attr("font-family", "Lato, sans-serif")
    .attr("textLength", legendW[i]).attr("lengthAdjust", "spacingAndGlyphs").text(n);
});
</script>
</body></html>
